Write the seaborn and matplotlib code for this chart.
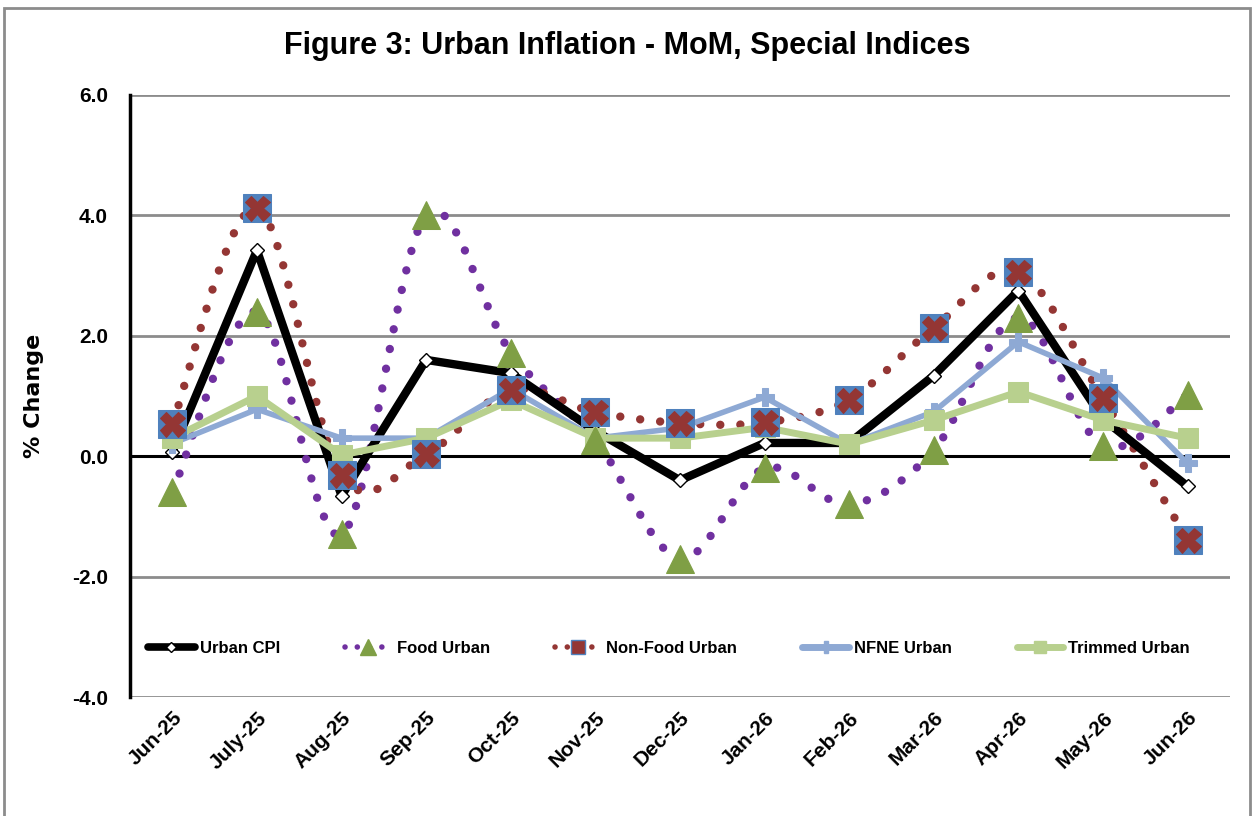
import matplotlib
matplotlib.use("Agg")
import matplotlib.pyplot as plt
from matplotlib.path import Path
from matplotlib.patches import PathPatch, Rectangle
from matplotlib.lines import Line2D
import seaborn as sns
import pandas as pd

# donnees
months = ["Jun-25", "July-25", "Aug-25", "Sep-25", "Oct-25", "Nov-25", "Dec-25",
          "Jan-26", "Feb-26", "Mar-26", "Apr-26", "May-26", "Jun-26"]
urban_cpi = [0.07, 3.42, -0.66, 1.6, 1.38, 0.42, -0.4, 0.22, 0.22, 1.34, 2.75, 0.62, -0.5]
food_urban = [-0.6, 2.4, -1.3, 4.0, 1.72, 0.27, -1.7, -0.2, -0.8, 0.1, 2.3, 0.17, 1.02]
nonfood_urban = [0.53, 4.12, -0.32, 0.03, 1.1, 0.73, 0.55, 0.56, 0.94, 2.13, 3.06, 0.96, -1.39]
nfne_urban = [0.21, 0.78, 0.3, 0.3, 1.12, 0.3, 0.47, 0.98, 0.2, 0.74, 1.9, 1.3, -0.12]
trimmed_urban = [0.3, 1.0, 0.02, 0.3, 0.93, 0.3, 0.3, 0.48, 0.2, 0.6, 1.07, 0.6, 0.3]

sns.set_theme(style="white")
plt.rcParams['font.family'] = ['Liberation Sans Narrow', 'Liberation Sans', 'DejaVu Sans']
plt.rcParams['font.weight'] = 'bold'
plt.rcParams['text.color'] = 'black'
plt.rcParams['axes.labelcolor'] = 'black'
plt.rcParams['xtick.color'] = 'black'
plt.rcParams['ytick.color'] = 'black'

PURPLE = "#7030A0"
DARKRED = "#943634"
TRI_GREEN = "#7F9F45"
BLUE_SQ = "#4F81BD"
NFNE_BLUE = "#8EA9D4"
TRIM_GREEN = "#B8D08E"


def smooth_path(ax, xs, ys, color): #courbe lissee facon excel (bezier), dessinee en pointilles
    pts = list(zip(xs, ys))
    verts = [pts[0]]
    codes = [Path.MOVETO]
    n = len(pts)
    for i in range(n - 1):
        p0 = pts[i - 1] if i > 0 else pts[i]
        p1 = pts[i]
        p2 = pts[i + 1]
        p3 = pts[i + 2] if i + 2 < n else pts[i + 1]
        c1 = (p1[0] + (p2[0] - p0[0]) / 6, p1[1] + (p2[1] - p0[1]) / 6)
        c2 = (p2[0] - (p3[0] - p1[0]) / 6, p2[1] - (p3[1] - p1[1]) / 6)
        verts += [c1, c2, p2]
        codes += [Path.CURVE4] * 3
    patch = PathPatch(Path(verts, codes), fill=False, edgecolor=color, lw=6,
                      linestyle=(0, (0.01, 2.4)), capstyle='round', zorder=3)
    ax.add_patch(patch)


fig, ax = plt.subplots(figsize=(12.55, 8.16), dpi=100)
fig.subplots_adjust(left=0.1036, right=0.98, top=0.8836, bottom=0.1458)

xpos = list(range(len(months)))

# grille
for v in [6, 4, 2, -2, -4]:
    ax.axhline(v, color="#8c8c8c", lw=2, zorder=1)
ax.axhline(0, color="black", lw=2.2, zorder=2)

# courbes lissees en pointilles
smooth_path(ax, xpos, food_urban, PURPLE)
smooth_path(ax, xpos, nonfood_urban, DARKRED)

sns.lineplot(x=xpos, y=urban_cpi, ax=ax, color="black", lw=6, marker="D", markersize=7,
             markerfacecolor="white", markeredgecolor="black", markeredgewidth=1, zorder=4)
sns.lineplot(x=xpos, y=nfne_urban, ax=ax, color=NFNE_BLUE, lw=4, marker="P", markersize=13,
             markerfacecolor=NFNE_BLUE, markeredgecolor=NFNE_BLUE, zorder=5)
sns.lineplot(x=xpos, y=trimmed_urban, ax=ax, color=TRIM_GREEN, lw=5, marker="s", markersize=14,
             markerfacecolor=TRIM_GREEN, markeredgecolor=TRIM_GREEN, zorder=6)
# marqueurs seuls
sns.lineplot(x=xpos, y=food_urban, ax=ax, lw=0, marker="^", markersize=20,
             markerfacecolor=TRI_GREEN, markeredgecolor=TRI_GREEN, zorder=7)
sns.lineplot(x=xpos, y=nonfood_urban, ax=ax, lw=0, marker="s", markersize=20,
             markerfacecolor=BLUE_SQ, markeredgecolor=BLUE_SQ, zorder=7)
sns.lineplot(x=xpos, y=nonfood_urban, ax=ax, lw=0, marker="X", markersize=18,
             markerfacecolor=DARKRED, markeredgecolor=DARKRED, zorder=8)

ax.set_xlim(-0.5, 12.5)
ax.set_ylim(-4, 6)
ax.set_yticks([-4, -2, 0, 2, 4, 6])
ax.set_yticklabels([f"{v:.1f}" for v in [-4, -2, 0, 2, 4, 6]], fontsize=15, fontweight='bold')
ax.set_xticks(xpos)
ax.set_xticklabels(months, rotation=45, ha='right', rotation_mode='anchor', fontsize=15, fontweight='bold')
ax.tick_params(axis='x', pad=8, length=0)
ax.tick_params(axis='y', pad=16, length=0)
ax.set_ylabel("% Change", fontsize=16, fontweight='bold', labelpad=20, family='DejaVu Sans')
ax.set_xlabel("")

for s in ["top", "right", "bottom"]:
    ax.spines[s].set_visible(False)
ax.spines["left"].set_color("black")
ax.spines["left"].set_linewidth(2.5)
ax.grid(False)

fig.suptitle("Figure 3: Urban Inflation - MoM, Special Indices", fontsize=22, fontweight='bold',
             x=0.5, y=0.962, color='black')

# legende
handles = [
    Line2D([], [], color="black", lw=5.5, marker="D", markersize=5, markerfacecolor="white", markeredgecolor="black"),
    Line2D([], [], color=PURPLE, lw=4, linestyle=(0, (0.01, 2.2)), dash_capstyle='round',
           marker="^", markersize=12, markerfacecolor=TRI_GREEN, markeredgecolor=TRI_GREEN),
    Line2D([], [], color=DARKRED, lw=4, linestyle=(0, (0.01, 2.2)), dash_capstyle='round',
           marker="s", markersize=10, markerfacecolor=DARKRED, markeredgecolor=BLUE_SQ),
    Line2D([], [], color=NFNE_BLUE, lw=5, marker="P", markersize=8, markerfacecolor=NFNE_BLUE, markeredgecolor=NFNE_BLUE),
    Line2D([], [], color=TRIM_GREEN, lw=5, marker="s", markersize=8, markerfacecolor=TRIM_GREEN, markeredgecolor=TRIM_GREEN),
]
labels = ["Urban CPI", "Food Urban", "Non-Food Urban", "NFNE Urban", "Trimmed Urban"]
ax.legend(handles, labels, loc='center', bbox_to_anchor=(0.49, 0.081), ncol=5, frameon=False,
          fontsize=12, handlelength=2.8, handletextpad=0.3, columnspacing=3.9)

# cadre autour de la figure
fig.patches.append(Rectangle((0.003, -0.02), 0.993, 1.01, transform=fig.transFigure,
                             fill=False, edgecolor="#8c8c8c", lw=2))

fig.savefig("out.png", dpi=100)
